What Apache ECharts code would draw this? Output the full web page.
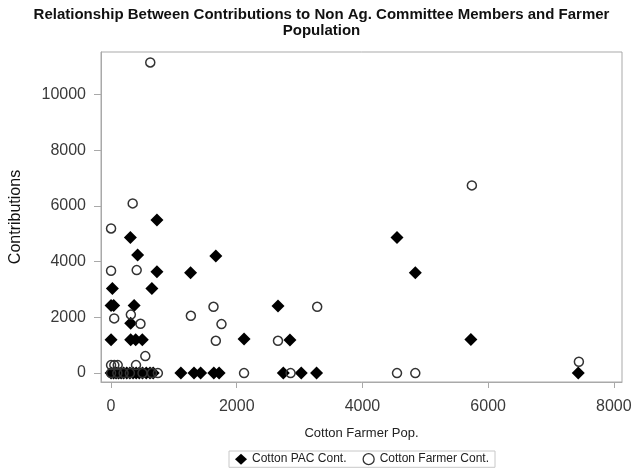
<!DOCTYPE html>
<html>
<head>
<meta charset="utf-8">
<title>Contributions vs Farmer Population</title>
<script src="https://cdn.jsdelivr.net/npm/echarts@6.0.0/dist/echarts.min.js"></script>
<style>
  html, body { margin: 0; padding: 0; background: #fff; }
  #chart { width: 643px; height: 468px; }
</style>
</head>
<body>
<div id="chart"></div>
<script>
'use strict';

//cotton PAC contributions (farmer pop, contribution)
var pacPop = [730, 307, 423, 730, 1265, 21, 650, 0, 42, 367, 312, 0, 312, 392, 497,
  1667, 2656, 2116, 2846, 4550, 4841, 5725, 7434,
  0, 40, 80, 120, 160, 200, 250, 300, 350, 400, 450, 500, 560, 620, 670,
  1111, 1320, 1425, 1635, 1720, 2741, 3026, 3270];
var pacCont = [5494, 4872, 4237, 3638, 3600, 3040, 3040, 2430, 2430, 2430, 1790, 1200, 1200, 1200, 1200,
  4201, 2406, 1221, 1185, 4872, 3602, 1209, 0,
  0, 0, 0, 0, 0, 0, 0, 0, 0, 0, 0, 0, 0, 0, 0,
  0, 0, 0, 0, 0, 0, 0, 0];

//cotton farmer contributions (farmer pop, contribution)
var farmerPop = [624, 344, 0, 0, 408, 50, 315, 468, 545, 0, 52, 106, 397, 745,
  1630, 1270, 1757, 3280, 1667, 2656, 2116, 2857, 5741, 7444, 4550, 4841,
  0, 100, 200, 300, 500, 650];
var farmerCont = [11155, 6093, 5195, 3674, 3698, 1964, 2100, 1770, 610, 287, 287, 287, 287, 0,
  2381, 2058, 1759, 2381, 1160, 1160, 0, 0, 6740, 407, 0, 0,
  0, 0, 0, 0, 0, 0];

//tick labels
var xTicks = [0, 2000, 4000, 6000, 8000];
var yTicks = [0, 2000, 4000, 6000, 8000, 10000];

function pairs(xs, ys) {
  return xs.map(function(x, i) {
    return [x, ys[i]];
  });
}

//plain numbers, no thousands separator
function plain(v) {
  return String(v);
}

var axisGray = '#a9a9a9';
var labelColor = '#3a3a3a';
var fontFamily = 'Liberation Sans, Arial, sans-serif';

var chart = echarts.init(document.getElementById('chart'));

chart.setOption({
  backgroundColor: '#fff',
  animation: false,
  textStyle: { fontFamily: fontFamily },
  title: {
    text: 'Relationship Between Contributions to Non Ag. Committee Members and Farmer\nPopulation',
    left: 'center',
    top: 2,
    textStyle: {
      fontSize: 15,
      fontWeight: 'bold',
      color: '#111',
      lineHeight: 16,
      fontFamily: fontFamily
    }
  },
  legend: {
    top: 451,
    left: 229,
    padding: [2, 6, 2, 6],
    itemGap: 16,
    itemWidth: 12,
    itemHeight: 11,
    borderColor: '#c8c8c8',
    borderWidth: 1,
    textStyle: { fontSize: 12, color: '#222', fontFamily: fontFamily },
    data: [
      { name: 'Cotton PAC Cont.' },
      { name: 'Cotton Farmer Cont.', itemStyle: { borderWidth: 1.3 } }
    ]
  },
  grid: {
    left: 100,
    right: 21,
    top: 52,
    bottom: 86,
    show: true,
    borderColor: axisGray,
    borderWidth: 1
  },
  xAxis: {
    type: 'value',
    min: -160,
    max: 8130,
    name: 'Cotton Farmer Pop.',
    nameLocation: 'middle',
    nameGap: 45,
    nameTextStyle: { fontSize: 13, color: '#222' },
    axisLine: { show: true, onZero: false, lineStyle: { color: axisGray } },
    axisTick: { show: true, length: 6, lineStyle: { color: axisGray }, customValues: xTicks },
    axisLabel: { fontSize: 16, color: labelColor, margin: 17, customValues: xTicks, formatter: plain },
    splitLine: { show: false }
  },
  yAxis: {
    type: 'value',
    min: -320,
    max: 11530,
    name: 'Contributions',
    nameLocation: 'middle',
    nameGap: 77,
    nameTextStyle: { fontSize: 16, color: '#111' },
    axisLine: { show: true, onZero: false, lineStyle: { color: axisGray } },
    axisTick: { show: true, length: 7, lineStyle: { color: axisGray }, customValues: yTicks },
    axisLabel: { fontSize: 16, color: labelColor, margin: 15, customValues: yTicks, formatter: plain },
    splitLine: { show: false }
  },
  series: [
    {
      name: 'Cotton PAC Cont.',
      type: 'scatter',
      symbol: 'diamond',
      symbolSize: [13, 13],
      itemStyle: { color: '#000', opacity: 1 },
      data: pairs(pacPop, pacCont)
    },
    {
      name: 'Cotton Farmer Cont.',
      type: 'scatter',
      symbol: 'circle',
      symbolSize: 9,
      itemStyle: { color: 'rgba(0,0,0,0)', borderColor: '#333', borderWidth: 1.5, opacity: 1 },
      data: pairs(farmerPop, farmerCont)
    }
  ]
});
</script>
</body>
</html>
